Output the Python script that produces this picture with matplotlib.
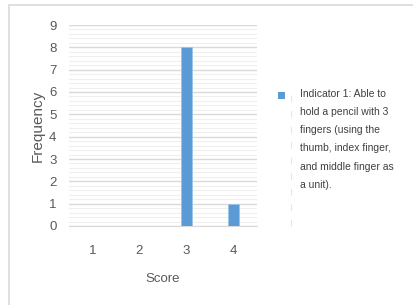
import numpy as np
import matplotlib.pyplot as plt
from matplotlib.patches import Rectangle
from matplotlib.ticker import MultipleLocator

scores = ["1", "2", "3", "4"]
freq = [0, 0, 8, 1]
legend_label = ("Indicator 1: Able to\nhold a pencil with 3\nfingers (using the\n"
                "thumb, index finger,\nand middle finger as\na unit).")

plt.rcParams['font.family'] = ['Liberation Sans', 'DejaVu Sans']
grey = "#595959"
blue = "#5b9bd5"

W, H = 414, 305
fig = plt.figure(figsize=(W / 100, H / 100), dpi=100)
fig.patches.append(Rectangle((9 / W, -0.05), 1.1, 1 - 5 / H + 0.05, transform=fig.transFigure,
                             fill=False, edgecolor="#d9d9d9", lw=1.2))

ax = fig.add_axes([69 / W, 1 - 226 / H, 188 / W, 201 / H])
x = np.arange(len(scores))
bars = ax.bar(x, freq, width=0.24, color=blue, edgecolor="#9dc3e6", lw=0.6, zorder=3)
ax.set_xlim(-0.5, 3.5)
ax.set_ylim(0, 9)
ax.yaxis.set_major_locator(MultipleLocator(1))
ax.yaxis.set_minor_locator(MultipleLocator(0.2))
ax.grid(axis="y", which="major", color="#d9d9d9", lw=1.0, zorder=0)
ax.grid(axis="y", which="minor", color="#efefef", lw=0.8, zorder=0)
ax.set_xticks(x)
ax.set_xticklabels(scores)
for s in ["top", "right", "left"]:
    ax.spines[s].set_visible(False)
ax.spines["bottom"].set_color("#d9d9d9")
ax.tick_params(axis="both", which="both", length=0, colors=grey, labelsize=9.5)
ax.tick_params(axis="x", pad=14)
ax.tick_params(axis="y", pad=9)
ax.set_xlabel("Score", fontsize=9.5, color=grey, labelpad=11)
ax.set_ylabel("Frequency", fontsize=11, color=grey, labelpad=3)

fig.patches.append(Rectangle((278 / W, 1 - 99 / H), 7 / W, 7 / H, transform=fig.transFigure,
                             facecolor=blue, edgecolor="none"))
fig.lines.append(plt.Line2D([291 / W, 291 / W], [1 - 95 / H, 1 - 228 / H], transform=fig.transFigure,
                            color="#e6e6e6", lw=0.8, ls=(0, (6, 8))))
fig.text(300 / W, 1 - 89 / H, legend_label, fontsize=7.5, color="#404040", va="top", ha="left",
         linespacing=2.02)

fig.savefig("out.png", dpi=100)
